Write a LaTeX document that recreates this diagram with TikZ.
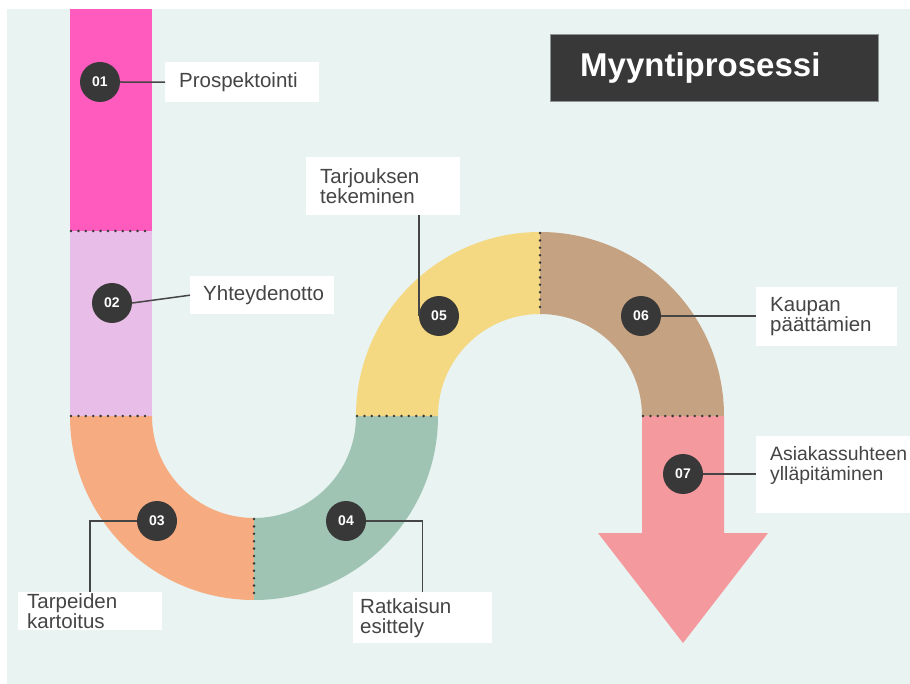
\documentclass[tikz,border=0pt]{standalone}
\usepackage{fontspec}
\setmainfont{Liberation Sans}
\usepackage{xcolor}
\usepackage{tikz}
\usetikzlibrary{positioning, calc}
\definecolor{bgcolor}{HTML}{E9F3F1}
\definecolor{pinkcolor}{HTML}{FF5ABE}
\definecolor{lilaccolor}{HTML}{E8BDE8}
\definecolor{orangecolor}{HTML}{F6AC80}
\definecolor{greencolor}{HTML}{9FC4B4}
\definecolor{yellowcolor}{HTML}{F4D982}
\definecolor{tancolor}{HTML}{C5A282}
\definecolor{rosecolor}{HTML}{F4999D}
\definecolor{darkcolor}{HTML}{383838}
\definecolor{textcolor}{HTML}{454545}
\definecolor{edgecolor}{HTML}{8C9494}

\begin{document}
\begin{tikzpicture}[
    x=1pt, y=-1pt,
    stepnum/.style={circle, fill=darkcolor, text=white, minimum size=40pt, inner sep=0pt, font=\bfseries\fontsize{14}{14}\selectfont},
    tag/.style={fill=white, text=textcolor, align=left, anchor=north west, inner ysep=0pt, font=\fontsize{20.5}{20}\selectfont},
    link/.style={draw=textcolor, line width=1.5pt},
    divider/.style={draw=darkcolor, line width=2.8pt, dash pattern=on 0pt off 7.4pt, line cap=round}
]
    \useasboundingbox (0,0) rectangle (910,684);
    \fill[bgcolor] (7,9) rectangle (910,684);

    % Path segments
    \fill[pinkcolor] (70,9) rectangle (152,231);
    \fill[lilaccolor] (70,231) rectangle (152,416);
    \fill[orangecolor] (70,416) arc[start angle=180, end angle=90, radius=184] -- (254,518) arc[start angle=90, end angle=180, radius=102] -- cycle;
    \fill[greencolor] (254,600) arc[start angle=90, end angle=0, radius=184] -- (356,416) arc[start angle=0, end angle=90, radius=102] -- cycle;
    \fill[yellowcolor] (356,416) arc[start angle=180, end angle=270, radius=184] -- (540,314) arc[start angle=270, end angle=180, radius=102] -- cycle;
    \fill[tancolor] (540,232) arc[start angle=270, end angle=360, radius=184] -- (642,416) arc[start angle=360, end angle=270, radius=102] -- cycle;
    \fill[rosecolor] (642,416) -- (724,416) -- (724,533) -- (768,533) -- (683,643) -- (598,533) -- (642,533) -- cycle;

    % Dividers
    \draw[divider] (71,231) -- (152,231);
    \draw[divider] (71,416) -- (152,416);
    \draw[divider] (357,416) -- (438,416);
    \draw[divider] (643,416) -- (724,416);
    \draw[divider] (254,519) -- (254,600);
    \draw[divider] (540,233) -- (540,314);

    % Title
    \node[fill=darkcolor, draw=edgecolor, text=white, anchor=north west, minimum height=67pt, text width=268pt, inner xsep=30pt, font=\bfseries\fontsize{33}{33}\selectfont] (title) at (550,34) {Myyntiprosessi};

    % Step numbers
    \node[stepnum] (s1) at (100,82) {01};
    \node[stepnum] (s2) at (112,303) {02};
    \node[stepnum] (s3) at (157,521) {03};
    \node[stepnum] (s4) at (346,521) {04};
    \node[stepnum] (s5) at (439,316) {05};
    \node[stepnum] (s6) at (641,316) {06};
    \node[stepnum] (s7) at (683,474) {07};

    % Labels
    \node[tag, text width=126pt, inner xsep=14pt, minimum height=40pt] (prospect) at (165,62) {Prospektointi};
    \node[tag, text width=118pt, inner xsep=13pt, minimum height=38pt] (contact) at (190,276) {Yhteydenotto};
    \node[tag, text width=126pt, inner xsep=9pt, minimum height=38pt] (needs) at (18,592) {Tarpeiden\\kartoitus};
    \node[tag, text width=125pt, inner xsep=7pt, minimum height=51pt] (solution) at (353,592) {Ratkaisun\\esittely};
    \node[tag, text width=126pt, inner xsep=14pt, minimum height=58pt] (offer) at (306,157) {Tarjouksen\\tekeminen};
    \node[tag, text width=113pt, inner xsep=14pt, minimum height=59pt] (closing) at (756,287) {Kaupan\\päättämien};
    \node[tag, inner xsep=14pt, inner ysep=10pt, font=\fontsize{19.4}{20}\selectfont] (care) at (756,436) {\parbox[c][57pt][t]{160pt}{Asiakassuhteen\\ylläpitäminen}};

    % Connectors
    \draw[link] (s1.east) -- (prospect.west);
    \draw[link] (s2.east) -- (contact.west);
    \draw[link] (s3.west) -| (needs.north);
    \draw[link] (s4.east) -| (solution.north);
    \draw[link] (s5.west) -- (s5.west |- offer.south);
    \draw[link] (s6.east) -- (s6.east -| closing.west);
    \draw[link] (s7.east) -- (s7.east -| care.west);
\end{tikzpicture}
\end{document}
